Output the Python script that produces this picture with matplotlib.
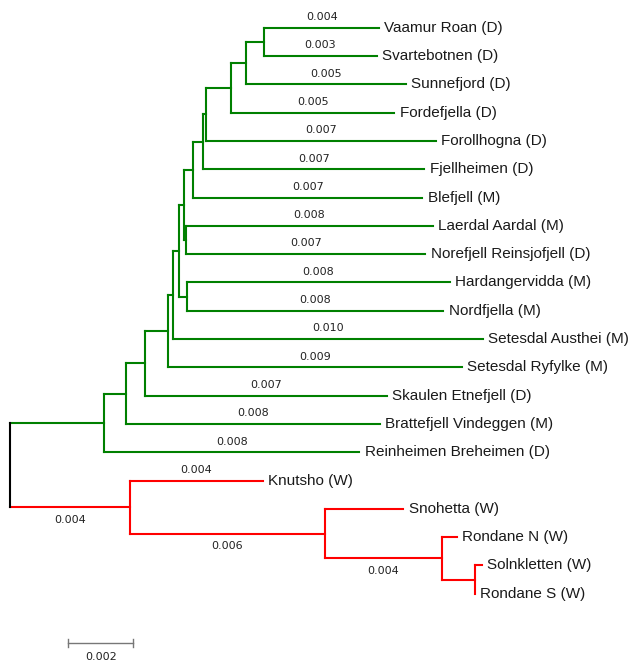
import matplotlib
matplotlib.use('Agg')
import matplotlib.pyplot as plt

# leaves, top to bottom, with parent node and branch length
leaf_names = [
    "Vaamur Roan (D)", "Svartebotnen (D)", "Sunnefjord (D)", "Fordefjella (D)",
    "Forollhogna (D)", "Fjellheimen (D)", "Blefjell (M)", "Laerdal Aardal (M)",
    "Norefjell Reinsjofjell (D)", "Hardangervidda (M)", "Nordfjella (M)",
    "Setesdal Austhei (M)", "Setesdal Ryfylke (M)", "Skaulen Etnefjell (D)",
    "Brattefjell Vindeggen (M)", "Reinheimen Breheimen (D)",
    "Knutsho (W)", "Snohetta (W)", "Rondane N (W)", "Solnkletten (W)", "Rondane S (W)",
]
leaf_parents = [
    "n13", "n13", "n12", "n11", "n10", "n9", "n8", "n14", "n14", "n15", "n15",
    "n5", "n4", "n3", "n2", "g0",
    "w0", "w1", "w2", "w3", "w3",
]
leaf_lengths = [
    0.00352, 0.00345, 0.00492, 0.00502, 0.00708, 0.00680, 0.00706, 0.00759,
    0.00736, 0.00808, 0.00788, 0.00952, 0.00906, 0.00744, 0.00782, 0.00786,
    0.00409, 0.00241, 0.00046, 0.00021, 0.00000,
]

# internal nodes
node_names = ["g0", "n2", "n3", "n4", "n5", "n6", "n7", "n8", "n9", "n10",
              "n11", "n12", "n13", "n14", "n15", "w0", "w1", "w2", "w3"]
node_parents = ["root", "g0", "n2", "n3", "n4", "n5", "n6", "n7", "n8", "n9",
                "n10", "n11", "n12", "n7", "n6", "root", "w0", "w1", "w2"]
node_lengths = [0.00289, 0.00068, 0.00058, 0.00070, 0.00017, 0.00018, 0.00014,
                0.00029, 0.00032, 0.00007, 0.00079, 0.00046, 0.00056, 0.00008,
                0.00025, 0.00369, 0.00600, 0.00360, 0.00102]

# which branches carry a length label
labels_above = leaf_names[:17]
labels_below = ["w0", "w1", "w2"]

clade_colors = {"g0": "#008000", "w0": "#ff0000"}

parent = dict(zip(leaf_names + node_names, leaf_parents + node_parents))
length = dict(zip(leaf_names + node_names, leaf_lengths + node_lengths))
children = {}
for child, par in parent.items():
    children.setdefault(par, []).append(child)

xpos = {"root": 0.0}
def get_x(n):
    if n not in xpos:
        xpos[n] = get_x(parent[n]) + length[n]
    return xpos[n]

ypos = {name: i for i, name in enumerate(leaf_names)}
def get_y(n):
    if n not in ypos:
        ys = [get_y(c) for c in children[n]]
        ypos[n] = (min(ys) + max(ys)) / 2
    return ypos[n]

def color_of(n):
    while n != "root":
        if n in clade_colors:
            return clade_colors[n]
        n = parent[n]
    return "black"

px = 32500  # pixels per unit of branch length
fig = plt.figure(figsize=(6.3, 6.64), dpi=100)
ax = fig.add_axes([0, 0, 1, 1])
ax.set_xlim(-10 / px, 620 / px)
ax.set_ylim((664 - 27.7) / 28.3, -27.7 / 28.3)
ax.axis("off")

lw = 1.5
for n in leaf_names + node_names:
    x0, x1, y = get_x(parent[n]), get_x(n), get_y(n)
    ax.plot([x0, x1], [y, y], color=color_of(n), lw=lw, solid_capstyle="projecting")
    if n in labels_above:
        ax.annotate(f"{length[n]:.3f}", ((x0 + x1) / 2, y), xytext=(0, 7.7),
                    textcoords="offset points", ha="center", va="center",
                    fontsize=8, color="#222222")
    if n in labels_below:
        ax.annotate(f"{length[n]:.3f}", ((x0 + x1) / 2, y), xytext=(0, -9.2),
                    textcoords="offset points", ha="center", va="center",
                    fontsize=8, color="#222222")

for n in ["root"] + node_names:
    ys = [get_y(c) for c in children[n]]
    ax.plot([get_x(n), get_x(n)], [min(ys), max(ys)], color=color_of(n), lw=lw,
            solid_capstyle="projecting")

for name in leaf_names:
    ax.annotate(name, (get_x(name), get_y(name)), xytext=(3.8, 0),
                textcoords="offset points", ha="left", va="center",
                fontsize=11, family="Liberation Sans", color="#1a1a1a")

# scale bar
sb_len = 0.002
sb_x = 0.00179
sb_y = len(leaf_names) - 1 + 1.75
ax.plot([sb_x, sb_x + sb_len], [sb_y, sb_y], color="#777777", lw=1)
for xe in (sb_x, sb_x + sb_len):
    ax.plot([xe, xe], [sb_y - 0.14, sb_y + 0.14], color="#777777", lw=1)
ax.annotate(f"{sb_len:.3f}", (sb_x + sb_len / 2, sb_y), xytext=(0, -10),
            textcoords="offset points", ha="center", va="center",
            fontsize=8, color="#222222")

fig.savefig("out.png", dpi=100, facecolor="white")
